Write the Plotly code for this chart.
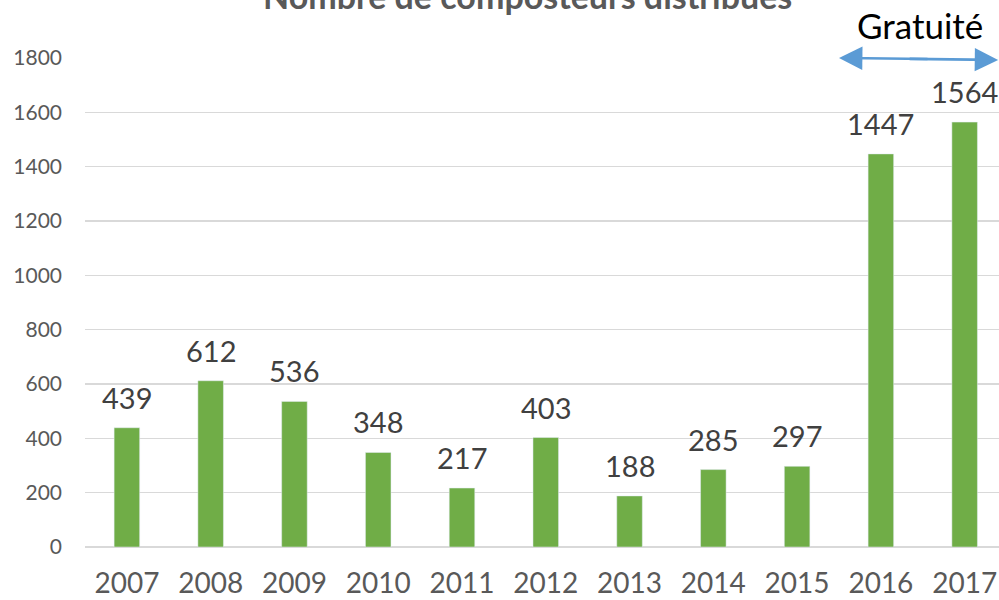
import plotly.graph_objects as go

years = ["2007", "2008", "2009", "2010", "2011", "2012", "2013", "2014", "2015", "2016", "2017"]
values = [439, 612, 536, 348, 217, 403, 188, 285, 297, 1447, 1564]
y_ticks = [0, 200, 400, 600, 800, 1000, 1200, 1400, 1600, 1800]

FONT = "Lato"
BAR = "#70AD47"

fig = go.Figure()
fig.add_trace(go.Bar(
    x=list(range(len(years))), y=values, marker_color=BAR, width=0.305,
    hoverinfo="skip",
))

annotations = []
for i, v in enumerate(values):
    annotations.append(dict(
        x=i, y=v, xref="x", yref="y", text=str(v), showarrow=False,
        xanchor="center", yanchor="bottom", yshift=11,
        font=dict(family=FONT, size=29, color="#404040"),
    ))

annotations.append(dict(
    x=0.4836, y=1.082, xref="paper", yref="paper",
    xanchor="center", yanchor="bottom",
    text="<b>Nombre de composteurs distribués</b>", showarrow=False,
    font=dict(family=FONT, size=34, color="#595959"),
))
annotations.append(dict(
    x=0.9136, y=1.0204, xref="paper", yref="paper",
    xanchor="center", yanchor="bottom",
    text="Gratuité", showarrow=False,
    font=dict(family=FONT, size=35, color="#000000"),
))
for hx, hy, ax, ay in [(8.50, 1800, 90, 1), (10.40, 1793, -90, -1)]:
    annotations.append(dict(
        x=hx, y=hy, xref="x", yref="y", text="", showarrow=True,
        ax=ax, ay=ay, arrowhead=2, arrowsize=1.8, arrowwidth=2.6,
        arrowcolor="#5B9BD5", standoff=0, startstandoff=0,
    ))

fig.update_layout(
    width=999, height=600,
    margin=dict(l=85, r=0, t=58, b=53),
    paper_bgcolor="white", plot_bgcolor="white",
    showlegend=False,
    annotations=annotations,
    xaxis=dict(
        range=[-0.5, 10.41], tickmode="array",
        tickvals=list(range(len(years))), ticktext=years,
        showgrid=False, zeroline=False, showline=False, ticks="",
        ticklabelstandoff=17, automargin=False,
        tickfont=dict(family=FONT, size=28, color="#595959"),
        fixedrange=True,
    ),
    yaxis=dict(
        range=[0, 1800], tickmode="array", tickvals=y_ticks,
        showgrid=True, gridcolor="#D9D9D9", gridwidth=1.5,
        zeroline=True, zerolinecolor="#D9D9D9", zerolinewidth=1.5,
        showline=False, ticks="", ticklabelstandoff=22, automargin=False,
        tickfont=dict(family=FONT, size=21, color="#595959"),
        fixedrange=True,
    ),
)

fig.write_html(
    "out.html",
    config={"displayModeBar": False, "staticPlot": True},
    post_script="document.body.style.margin='0';document.body.style.overflow='hidden';",
)
